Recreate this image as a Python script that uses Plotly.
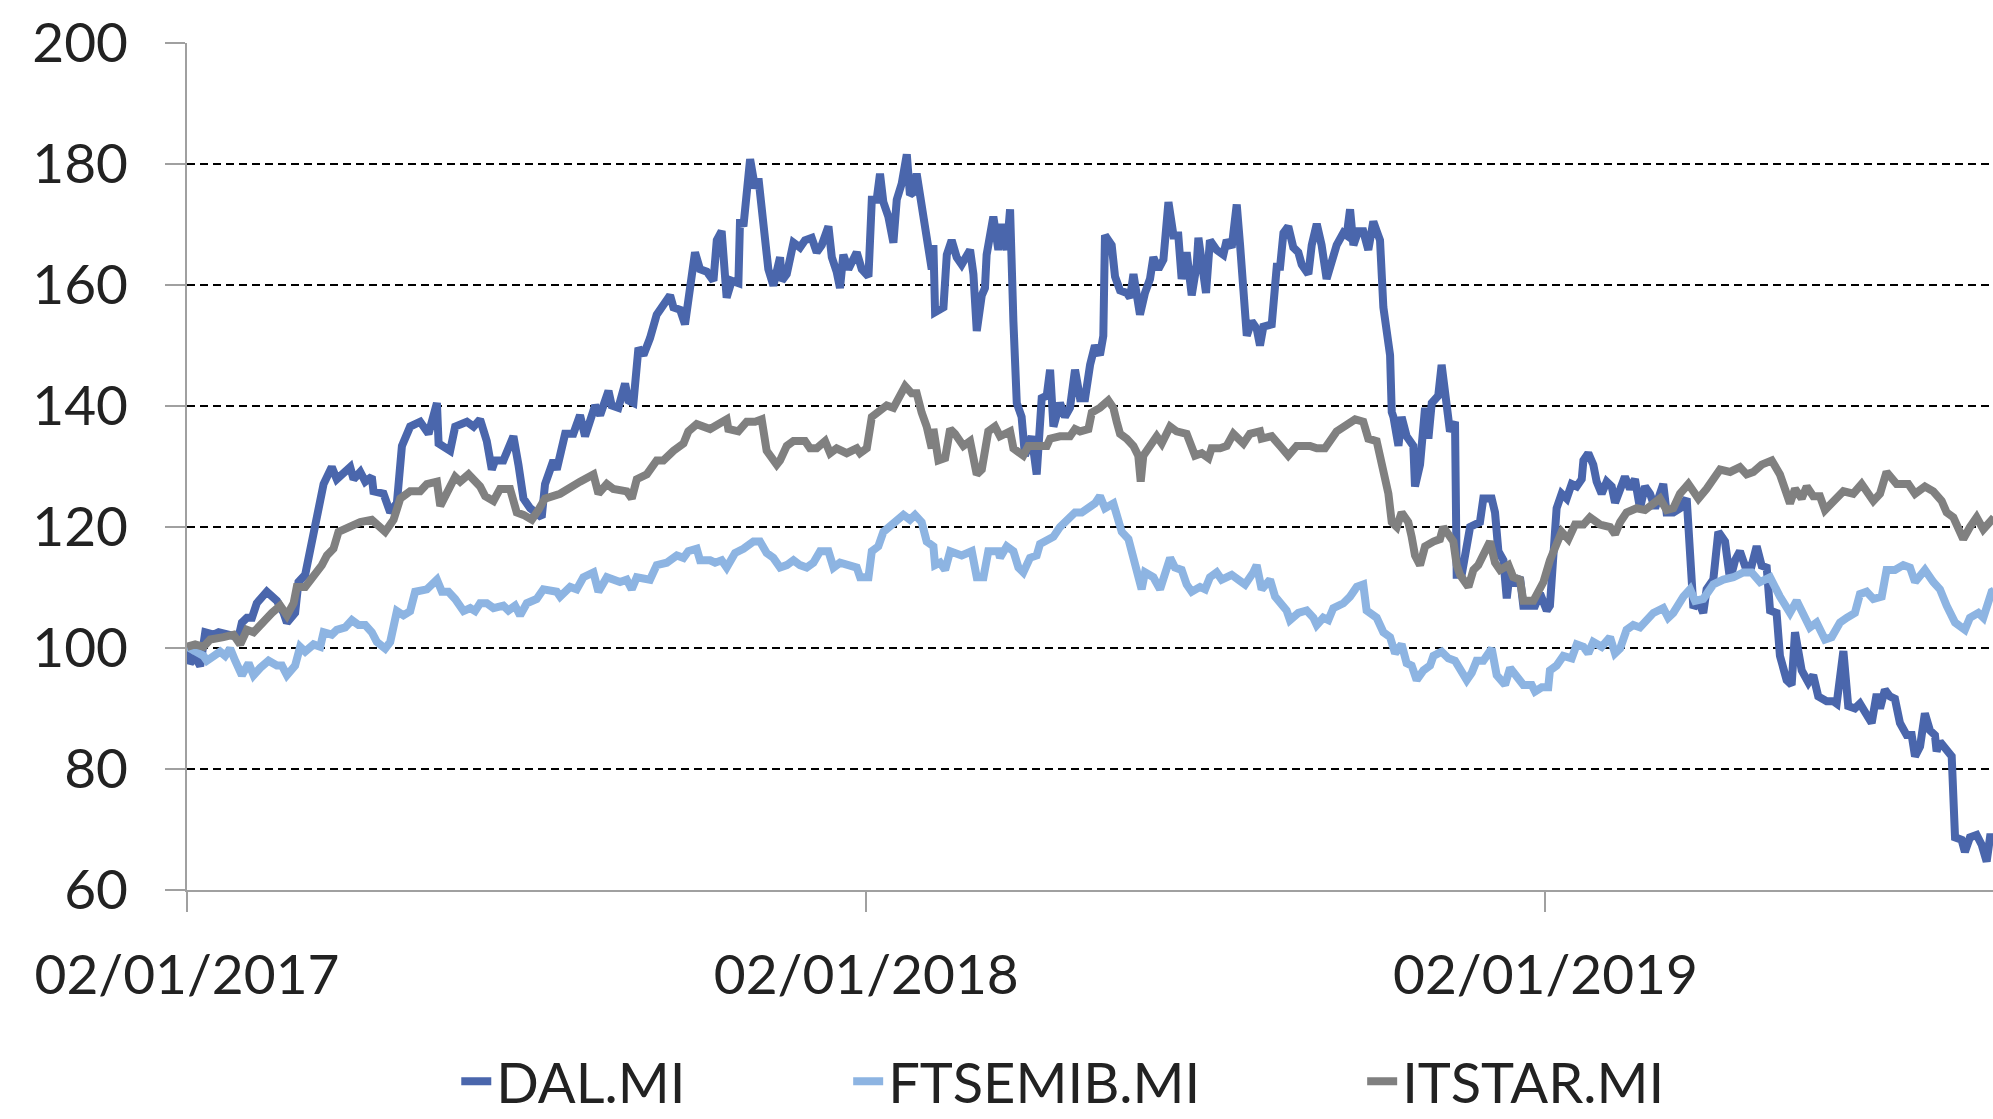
import pandas as pd
import plotly.graph_objects as go

# ---------------- data ----------------
START = "2017-01-02"
series_names = ["DAL.MI", "FTSEMIB.MI", "ITSTAR.MI"]
series_colors = ["#4A66AC", "#8DB4E2", "#808080"]

# days elapsed since 02/01/2017
dal_days = [0, 1.7, 4.4, 7.1, 9.8, 14.3, 17, 23.2, 27.7, 29.5, 32.2, 34.9, 37.5, 42.9, 48.3, 51.9, 53.7, 58.1,
            59.9, 63.5, 66.2, 69.8, 73.4, 77.8, 80.5, 87.7, 89.5, 93.1, 95.8, 99.3, 100.2, 105.6, 109.2, 112.8,
            115.5, 119.9, 125.3, 129.8, 134.3, 135.2, 141.4, 144.1, 150.4, 154, 157.5,
            159.3, 161.1, 163.8, 165.6, 170, 175.4, 178.1, 180.8, 184.4, 190.6, 192.4, 196.9, 198.7, 203.2,
            207.6, 211.2, 213.9, 219.3, 222, 226.5, 228.2, 231.8, 235.4, 237.2, 239.9, 242.6, 245.3, 248.8,
            252.4, 255.1, 259.6, 261.4, 265, 267.6, 270.3, 273, 275.7, 279.3, 282.9, 284.7, 287.3, 290, 292.7,
            296.3, 297.2, 299, 302.6, 305.3, 307.1, 310.6, 312.4, 315.1, 317.8,
            318.7, 319.6, 322.3, 325.9, 329.4, 332.1, 335.7, 338.4, 341.1, 344.7, 346.5, 349.1, 350.9, 352.7,
            355.4, 359.9, 362.6, 366.2, 368, 370.6, 372.4, 374.2, 376.9, 379.6, 381.4, 384.1, 386.8, 388.5,
            390.3, 392.1, 393.9, 395.7, 397.5, 400.2, 401.1, 402, 406.5, 408.3, 410.9, 413.6, 416.3, 420.8,
            422.6, 424.4, 427.1, 428.8, 429.7, 433.3, 436, 437.8, 440.5, 442.3, 444.1, 445.9, 448.5, 450.3,
            453.9, 456.6, 459.3, 462, 463.8, 465.6, 469.1, 471.8, 474.5, 477.2, 479.9,
            482.6, 485.3, 487.9, 490.6, 492.4, 493.3, 496.9, 498.7, 501.4, 505, 506.8, 508.6, 512.1, 514.8,
            517.5, 519.3, 522, 524.7, 527.4, 530.1, 532.7, 534.5, 537.2, 539.9, 542.6, 543.5, 545.3, 547.6,
            549.7, 553.3, 556.9, 558.7, 561.4, 564.1, 565.9, 567.7, 569.5, 572.1, 574.8, 576.6, 578.4, 582.9,
            585.6, 587.4, 589.2, 591.8, 594.5, 597.2, 599, 602.6, 604.4, 607.1, 609.7, 612.4, 615.1, 617.8,
            621.4, 623.2, 625, 626.8, 629.4, 632.1, 634.8, 637.5, 639.3, 641.1,
            642.9, 646.5, 647.4, 648.3, 651, 652.7, 655.4, 659, 659.9, 662.6, 665.3, 667.1, 668.9, 672.4,
            674.2, 676.9, 678.7, 681.4, 682.3, 685, 689.5, 694.8, 696.6, 701.1, 702.9, 704.7, 707.4, 709.2,
            711, 712.7, 716.3, 718.1, 724.4, 727.1, 730.7, 732.4, 734.2, 736, 738.7, 741.4, 744.1, 746.8,
            749.5, 750.4, 753, 755.7, 757.5, 760.2, 762.9, 765.6, 767.4, 770.1, 772.7, 775.4, 778.1, 780.8,
            783.5, 786.2, 788.9, 793.3, 795.1, 798.7, 802.3,
            805.9, 807.7, 809.5, 812.2, 814.8, 816.6, 820.2, 822.9, 826.5, 829.2, 831.9, 834.5, 837.2, 840.8,
            843.5, 846.2, 848.9, 850.7, 854.2, 856, 859.6, 862.3, 864.1, 867.7, 871.3, 873.9, 876.6, 881.1,
            884.7, 886.5, 890.1, 892.7, 896.3, 899, 902.6, 905.3, 908, 909.8, 912.4, 915.1, 917.8, 920.5,
            924.1, 926.8, 928.6, 931.3, 933.9, 936.6, 939.3, 940.2, 942, 945.6, 948.3, 950.1, 953.6, 955.4,
            958.1, 961.7, 964.4, 967.1, 968.9, 971]
dal_vals = [99.5, 97.5, 98.5, 97, 102.6, 102.2, 102.6, 102, 101.8, 104.2, 105, 105, 107.4, 109.3, 107.8, 105.8, 104.2, 105.8,
            110.9, 112.1, 116, 122.4, 127.1, 129.9, 127.9, 129.9, 127.9, 129.1, 127.5, 128.3, 125.9, 125.5, 122.4, 124,
            133.4, 136.6, 137.4, 135.4, 140.5, 133.8, 132.6, 136.6, 137.4, 136.6, 137.8,
            136, 134.2, 129.5, 131, 131, 135, 130.3, 124.7, 123.1, 121.6, 127.1, 131, 129.5, 135.4,
            135.4, 138.5, 135, 140.1, 138.5, 142.5, 140.1, 139.7, 143.7, 140.9, 140.5, 149.6, 148.4, 151.2,
            155.1, 156.3, 158.3, 156.3, 155.9, 153.5, 158.7, 165.4, 162.6, 162.2, 160.7, 167.4, 168.9, 157.9, 160.7,
            160.3, 170.9, 169.7, 180.8, 176, 177.6, 167.4, 162.6, 159.9, 164.2,
            164.6, 160.7, 161.8, 167, 166.2, 167.4, 167.8, 165.4, 166.6, 169.7, 164.6, 162.2, 159.5, 165,
            162.6, 165.4, 162.6, 161.4, 174.1, 174.1, 178.4, 173.7, 171.3, 167, 174.1, 176.8, 181.6, 174.9,
            175.3, 178.4, 174.9, 170.9, 165.8, 162.6, 166.6, 155.5, 156.3, 165, 167.4, 164.6, 163.4, 165.8,
            161.8, 152.4, 158.3, 159.5, 165, 171.3, 165.8, 170.1, 165.8, 172.5, 153.9, 140.5, 138.2, 131.8,
            135, 128.7, 141.3, 141.7, 146, 136.6, 140.5, 138.2, 139.7, 146, 141.3,
            141.3, 146.8, 150, 148.4, 151.6, 168.2, 166.6, 161.4, 159.1, 158.7, 157.9, 161.8, 155.1, 158.7,
            161, 164.6, 162.6, 164.2, 173.7, 168.2, 168.2, 161, 165.4, 158.3, 163.4, 167.8, 163.4, 158.7,
            167.4, 165.8, 165, 167.4, 166.2, 173.3, 166.6, 157.9, 151.6, 154, 152.8, 150, 153.1, 153.5,
            163, 163, 168.6, 169.7, 166.2, 165.4, 163.4, 161.8, 166.6, 170.1, 166.6, 161, 164.2, 166.6,
            168.6, 168.2, 172.5, 166.6, 168.9, 168.9, 165.8, 170.5, 168.9, 167.4,
            156.3, 148.4, 139, 138.2, 133.4, 138.2, 135, 133.4, 126.7, 130.3, 139.7, 134.6, 140.5, 141.7,
            146.8, 139.7, 135.8, 137.4, 112.1, 112.1, 120, 120.8, 124.7, 124.7, 122.4, 116, 114.5, 108.2,
            112.9, 110.5, 111.7, 107, 107, 109, 106.2, 107, 116.8, 123.1, 125.5, 124.7, 127.1, 126.7,
            127.9, 131, 132.2, 130.3, 127.5, 125.5, 127.5, 126.7, 124, 126.3, 128.3, 126.3, 127.9, 123.1,
            126.7, 125.5, 123.1, 127.1, 122.4, 122.4, 123.1,
            124.7, 115.3, 106.6, 107.8, 105.8, 109.7, 111.3, 119.2, 117.6, 111.3, 114.5, 116, 113.6, 113.6,
            116.8, 113.6, 113.3, 106.2, 105.8, 98.7, 94.7, 93.9, 102.6, 96.3, 94.3, 95.5, 92, 91.2,
            91.2, 90.8, 99.5, 90.4, 90, 90.8, 88.8, 87.6, 92.4, 90, 93.1, 92, 91.6, 87.6,
            85.6, 85.6, 82.1, 83.7, 89.2, 86.4, 85.6, 82.9, 84.5, 82.9, 82.1, 68.7, 68.3, 66.3,
            68.7, 69.1, 67.5, 64.7, 68.7, 68.7]

ftse_days = [0, 4.4, 8.9, 10.7, 14.3, 17.8, 20.5, 23.2, 25.9, 29.5, 33.1, 35.8, 39.3, 43.8, 48.3, 51, 53.7, 58.1,
             60.8, 63.5, 68, 71.6, 73.4, 77.8, 80.5, 85, 88.6, 92.2, 95.8, 99.3, 102, 106.5, 109.2, 112.8,
             116.3, 119.9, 122.6, 128.9, 134.3, 137, 140.5, 144.1, 148.6, 152.2, 154.8, 157.5,
             161.1, 164.7, 170, 172.7, 176.3, 179, 182.6, 187.9, 191.5, 198.7, 200.5, 205.9, 209.4, 213,
             218.4, 221.1, 225.6, 232.7, 236.3, 239, 241.7, 248.8, 252.4, 257.8, 263.2, 266.8, 269.4, 273.9,
             275.7, 281.1, 283.8, 287.3, 290, 294.5, 299, 304.4, 307.9, 311.5, 315.1,
             318.7, 322.3, 325.9, 329.4, 333, 336.6, 340.2, 344.7, 347.4, 350.9, 354.5, 359.9, 361.7, 366.2,
             368, 371.5, 374.2, 378.7, 381.4, 385, 388.5, 391.2, 394.8, 397.5, 401.1, 402, 404.7, 407.4,
             410.1, 413.6, 416.3, 421.7, 424.4, 428, 430.6, 436, 436.9, 440.5, 444.1, 446.8, 449.4, 453,
             456.6, 458.4, 462, 465.6, 469.1, 472.7, 477.2, 480.8,
             484.4, 487.9, 490.6, 493.3, 497.8, 499.6, 502.3, 505.9, 508.6, 511.2, 513, 514.8, 519.3, 522.9,
             525.6, 528.3, 530.9, 534.5, 537.2, 539.9, 544.4, 547.1, 549.7, 553.3, 556, 561.4, 565, 568.6,
             573, 574.8, 577.5, 582, 584.7, 588.3, 590.9, 592.7, 597.2, 601.7, 605.3, 607.1, 610.6, 613.3,
             616, 621.4, 625, 628.6, 632.1, 633.9, 639.3, 642.9,
             646.5, 649.2, 652.7, 655.4, 658.1, 660.8, 664.4, 668, 669.8, 674.2, 677.8, 681.4, 684.1, 687.7,
             690.4, 693, 696.6, 701.1, 703.8, 708.3, 711, 714.5, 718.1, 722.6, 724.4, 728, 731.5, 732.4,
             736, 739.6, 744.1, 746.8, 750.4, 753, 755.7, 760.2, 764.7, 767.4, 770.1, 773.6, 777.2, 780.8,
             784.4, 788, 793.3, 796, 798.7, 801.4, 804.1, 807.7,
             810.4, 814.8, 820.2, 825.6, 831, 836.3, 840.8, 845.3, 850.7, 856, 861.4, 865, 868.6, 872.1,
             875.7, 880.2, 883.8, 888.3, 891.9, 896.3, 899, 902.6, 906.2, 910.7, 913.3, 917.8, 922.3, 925.9,
             928.6, 933.9, 938.4, 942, 945.6, 950.1, 955.4, 958.1, 962.6, 965.3, 969.8, 971]
ftse_vals = [100.2, 99.4, 98.7, 97.9, 98.7, 99.4, 98.7, 99.9, 97.9, 95.5, 97.5, 95.5, 96.7, 97.9, 97.1, 97.1, 95.5, 97.1,
             100.2, 99.4, 100.6, 100.2, 102.6, 102.2, 103, 103.4, 104.6, 103.8, 103.8, 102.6, 101, 99.9, 101, 106.1,
             105.4, 106.1, 109.3, 109.7, 111.3, 109.3, 109.3, 108.1, 106.1, 106.6, 106.1, 107.4,
             107.4, 106.6, 107, 106.2, 107, 105.4, 107.4, 108.1, 109.7, 109.3, 108.5, 110.1, 109.7, 111.7,
             112.5, 109.3, 111.7, 110.9, 111.3, 109.7, 111.7, 111.3, 113.7, 114.1, 115.3, 114.9, 116, 116.4,
             114.5, 114.5, 114.1, 114.5, 113.3, 115.7, 116.4, 117.6, 117.6, 115.7, 114.9,
             113.3, 113.7, 114.5, 113.7, 113.3, 114.1, 116, 116, 113.3, 114.1, 113.7, 113.3, 111.7, 111.7,
             116, 116.8, 119.2, 120.4, 120.8, 122, 121.2, 122, 120.8, 117.6, 116.8, 113.7, 114.1, 112.9,
             116, 115.7, 115.3, 116, 111.7, 111.7, 116, 116, 114.9, 116.8, 116, 113.3, 112.5, 114.9,
             115.3, 117.2, 118, 118.4, 120, 121.2, 122.4, 122.4,
             123.1, 123.9, 125.1, 123.1, 123.9, 121.6, 119.2, 118, 114.5, 112.5, 109.7, 112.5, 111.7, 109.7,
             112.9, 114.9, 113.3, 112.9, 110.5, 109.3, 110.1, 109.7, 111.7, 112.5, 111.3, 112.1, 111.3, 110.5,
             112.5, 113.7, 109.7, 111.3, 108.5, 107, 106.2, 104.6, 105.8, 106.2, 105, 103.8, 105, 104.6,
             106.6, 107.4, 108.5, 110.1, 110.5, 106.2, 105, 102.6,
             101.8, 99.1, 100.6, 97.5, 97.1, 94.7, 96.3, 97.1, 98.7, 99.4, 98.3, 97.9, 96.7, 94.7,
             95.9, 97.9, 97.9, 99.9, 95.5, 93.9, 96.7, 95.1, 93.9, 93.9, 92.8, 93.5, 93.5, 96.3,
             97.1, 98.7, 98.3, 100.6, 100.2, 99.1, 101, 100.2, 101.8, 99.1, 99.9, 103, 103.8, 103.4,
             104.6, 105.8, 106.6, 105, 105.8, 107.4, 108.5, 109.7,
             107.8, 108.1, 110.5, 111.3, 111.7, 112.5, 112.5, 110.9, 111.7, 108.5, 105.8, 107.8, 105.4, 103.4,
             104.2, 101.4, 101.8, 104.2, 105, 105.8, 108.9, 109.3, 108.1, 108.5, 112.9, 112.9, 113.7, 113.3,
             110.9, 112.9, 110.9, 109.7, 107, 104.2, 103, 105, 105.8, 105, 109.3, 109.5]

itstar_days = [0, 4.4, 8.9, 12.5, 19.6, 25, 28.6, 32.2, 35.8, 41.1, 45.6, 50.1, 53.7, 57.3, 59, 63.5, 68, 72.5,
               75.2, 78.7, 81.4, 87.7, 93.1, 99.3, 102, 106.5, 111, 114.6, 119.9, 125.3, 128.9, 134.3, 136.1,
               139.6, 144.1, 146.8, 151.3, 157.5,
               160.2, 164.7, 168.2, 173.6, 177.2, 180.8, 185.3, 188.8, 192.4, 200.5, 205.9, 211.2, 218.4, 221.1,
               225.6, 229.1, 236.3, 239, 241.7, 247.1, 252.4, 256, 261.4, 266.8, 269.4, 273.9, 281.1, 290,
               290.9, 296.3, 300.8, 305.3, 308.8, 311.5, 316.9,
               318.7, 322.3, 325.9, 332.1, 334.8, 338.4, 342.9, 345.6, 349.1, 354.5, 359.9, 361.7, 365.3, 368,
               371.5, 376, 379.6, 383.2, 385.9, 389.4, 392.1, 394.8, 397.5, 400.2, 401.1, 403.8, 407.4, 410.1,
               412.7, 417.2, 420.8, 424.4, 427.1, 430.6, 434.2, 436.9, 442.3, 444.1, 449.4, 452.1, 457.5, 462,
               463.8, 469.1, 474.5, 477.2, 479.9,
               484.4, 486.2, 490.6, 495.1, 497.8, 499.6, 501.4, 505, 508.6, 511.2, 512.5, 513.9, 517.5, 521.1,
               523.8, 528.3, 531.8, 537.2, 541.7, 545.3, 548.9, 550.6, 555.1, 558.7, 562.3, 567.7, 571.2, 576.6,
               577.5, 582.9, 587.4, 591.8, 596.3, 603.5, 607.1, 611.5, 617.8, 623.2, 627.7, 632.1, 634.8, 639.3,
               642, 643.8,
               645.6, 647.4, 650.1, 652.7, 656.3, 658.1, 659.9, 662.6, 665.3, 669.8, 673.3, 675.1, 677.8, 680.5,
               682.3, 684.1, 688.6, 691.3, 693.9, 696.6, 700.2, 702.9, 705.6, 710.1, 712.7, 716.3, 718.1, 723.5,
               726.2, 728.9, 732.4, 736, 738.7, 742.3, 745.9, 750.4, 753.9, 759.3, 764.7, 767.4, 770.1, 773.6,
               779, 783.5, 786.2, 791.5, 795.1, 798.7, 802.3,
               806.8, 812.2, 816.6, 823.8, 829.2, 834.5, 838.1, 841.7, 846.2, 851.6, 856, 861.4, 864.1, 867.7,
               870.4, 873.9, 877.5, 880.2, 883.8, 890.1, 895.4, 899.9, 906.2, 909.8, 913.3, 918.7, 925, 928.6,
               933.9, 938.4, 942.9, 945.6, 949.2, 954.5, 958.1, 961.7, 965.3, 971]
itstar_vals = [100.2, 100.6, 100.2, 101.4, 101.8, 102.2, 100.6, 103, 102.6, 104.6, 105.8, 107, 105.4, 107.4, 110.1, 110.1, 111.7, 113.7,
               115.3, 116.4, 119.2, 120, 120.8, 121.2, 120.4, 119.2, 121.2, 124.7, 125.9, 125.9, 127.1, 127.5, 123.5,
               125.9, 128.3, 127.5, 128.7, 126.7,
               125.1, 124.3, 126.3, 126.3, 122.4, 122, 121.2, 122.8, 124.7, 125.5, 126.7, 127.5, 128.7, 125.5,
               127.1, 126.3, 125.9, 124.7, 127.9, 128.7, 131, 131, 132.6, 133.8, 135.8, 137, 136.2, 137.8,
               136.2, 135.8, 137.4, 137.4, 137.8, 132.6, 130.3,
               131, 133.4, 134.2, 134.2, 133, 133, 134.2, 132.2, 133, 132.2, 133, 132.2, 133, 138.2,
               138.9, 140.1, 139.7, 141.7, 143.3, 142.1, 142.1, 138.9, 136.6, 133, 136.2, 131, 131.4, 136.2,
               135.4, 133.4, 134.2, 128.7, 129.5, 135.8, 136.6, 135, 135.8, 133, 131.8, 133.4, 133.4, 133.4,
               134.6, 135, 135, 136.2, 135.8,
               136.2, 138.9, 139.7, 140.9, 139.7, 137.4, 135.4, 134.6, 133.4, 131.8, 127.5, 131.8, 133.4, 135,
               133.8, 136.6, 135.8, 135.4, 131.8, 132.2, 131.4, 133, 133, 133.4, 135.4, 133.8, 135.4, 135.8,
               134.6, 135, 133.4, 131.8, 133.4, 133.4, 133, 133, 135.8, 137, 137.8, 137.4, 134.6, 134.2,
               130.3, 127.9,
               125.5, 120.8, 120, 122.4, 120.8, 118.4, 115.3, 113.7, 116.8, 117.6, 118, 120, 118.8, 117.6,
               113.7, 112.1, 110.1, 112.9, 113.7, 115.3, 117.6, 114.1, 112.9, 113.7, 111.7, 111.3, 107.8, 107.8,
               109.7, 110.9, 114.5, 117.6, 119.2, 118, 120.4, 120.4, 121.6, 120.4, 120, 118.8, 120.8, 122.4,
               123.1, 122.8, 123.5, 124.7, 122.8, 123.1, 125.5,
               127.1, 124.7, 126.3, 129.5, 129.1, 129.9, 128.7, 129.1, 130.3, 131, 128.7, 123.9, 126.3, 124.7,
               126.7, 125.1, 125.1, 122.8, 123.9, 125.9, 125.5, 127.1, 124.3, 125.5, 129.1, 127.1, 127.1, 125.5,
               126.7, 125.9, 124.3, 122.4, 121.6, 118, 120, 121.6, 119.6, 121.6]

tick_dates = ["2017-01-02", "2018-01-02", "2019-01-02"]
tick_labels = ["02/01/2017", "02/01/2018", "02/01/2019"]
y_ticks = [60, 80, 100, 120, 140, 160, 180, 200]
x_end_day = 970.5

# ---------------- figure ----------------
start = pd.Timestamp(START)


def to_dates(days):
    return [start + pd.Timedelta(days=float(d)) for d in days]


all_days = [dal_days, ftse_days, itstar_days]
all_vals = [dal_vals, ftse_vals, itstar_vals]
legend_ids = ["legend", "legend2", "legend3"]

FONT = "Lato, 'Open Sans', sans-serif"
TXT = "#222222"

fig = go.Figure()
for name, color, d, v, lg in zip(series_names, series_colors, all_days, all_vals, legend_ids):
    fig.add_trace(go.Scatter(
        x=to_dates(d), y=v, mode="lines", name=name, legend=lg,
        line=dict(color=color, width=8), hoverinfo="x+y+name"))

leg_common = dict(orientation="h", yanchor="middle", y=-0.226, xanchor="left",
                  font=dict(family=FONT, size=56, color=TXT), bgcolor="rgba(0,0,0,0)",
                  borderwidth=0, itemwidth=30)

fig.update_layout(
    width=1993, height=1119,
    margin=dict(l=187, r=0, t=43, b=229, pad=0, autoexpand=False),
    paper_bgcolor="white", plot_bgcolor="white",
    font=dict(family=FONT, size=56, color=TXT),
    showlegend=True,
    legend=dict(x=0.1491, **leg_common),
    legend2=dict(x=0.3661, **leg_common),
    legend3=dict(x=0.6507, **leg_common),
    xaxis=dict(
        type="date", automargin=False,
        range=[start, start + pd.Timedelta(days=x_end_day)],
        tickvals=[pd.Timestamp(t) for t in tick_dates], ticktext=tick_labels,
        showgrid=False, zeroline=False,
        showline=True, linecolor="#A0A0A0", linewidth=2,
        ticks="outside", ticklen=20, tickwidth=2, tickcolor="#A0A0A0",
        ticklabelstandoff=16,
        tickfont=dict(family=FONT, size=55, color=TXT),
    ),
    yaxis=dict(
        range=[60, 200], tickvals=y_ticks, automargin=False,
        showgrid=True, gridcolor="#000000", gridwidth=2, griddash="8px,5px",
        zeroline=False,
        showline=True, linecolor="#A0A0A0", linewidth=2,
        ticks="outside", ticklen=20, tickwidth=2, tickcolor="#A0A0A0",
        ticklabelstandoff=26,
        tickfont=dict(family=FONT, size=55, color=TXT),
    ),
)

fig.write_html("out.html", config={"displayModeBar": False},
               post_script="document.body.style.margin='0';document.body.style.overflow='hidden';")
